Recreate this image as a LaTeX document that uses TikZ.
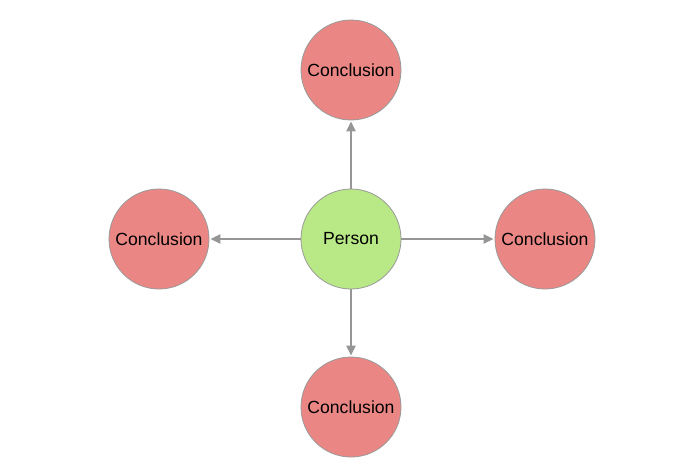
\documentclass[tikz,border=0pt]{standalone}
\usepackage{fontspec}
\setmainfont{Liberation Sans}
\usetikzlibrary{arrows.meta}
\begin{document}
\begin{tikzpicture}[x=1pt,y=-1pt,
  concl/.style={circle,draw=black!40,line width=0.8pt,fill={rgb,255:red,234;green,135;blue,132},minimum size=100pt,inner sep=0pt,font=\fontsize{17.6}{20}\selectfont},
  person/.style={circle,draw=black!40,line width=0.8pt,fill={rgb,255:red,185;green,233;blue,134},minimum size=100pt,inner sep=0pt,font=\fontsize{17.6}{20}\selectfont},
  link/.style={draw={rgb,255:red,150;green,150;blue,150},line width=2.6pt,-{Triangle[length=10pt,width=9pt]},shorten >=1pt}]
\useasboundingbox (0,0) rectangle (700,475);
\node[person] (p) at (351,239) {Person};
\node[concl] (t) at (351,70) {Conclusion};
\node[concl] (b) at (351,407) {Conclusion};
\node[concl] (l) at (159,239) {Conclusion};
\node[concl] (r) at (545,239) {Conclusion};
\draw[link] (p) -- (t);
\draw[link] (p) -- (b);
\draw[link] (p) -- (l);
\draw[link] (p) -- (r);
\end{tikzpicture}
\end{document}
